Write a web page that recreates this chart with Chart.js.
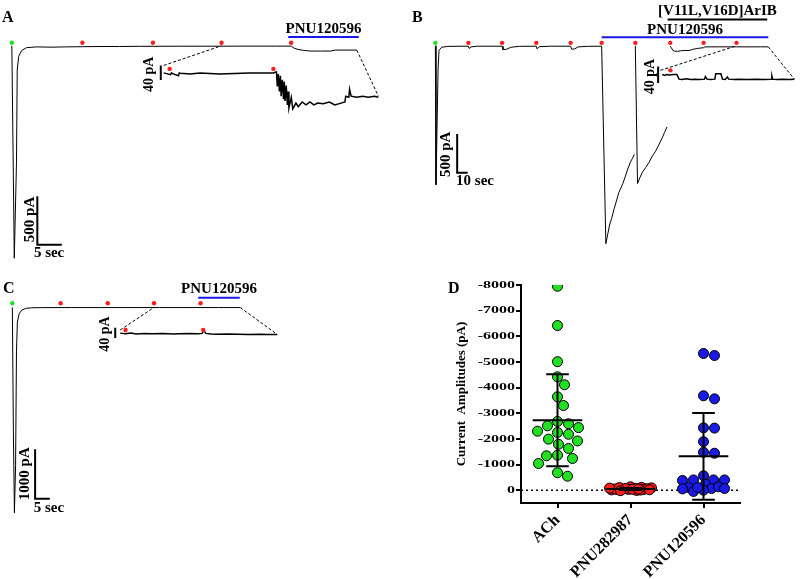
<!DOCTYPE html>
<html>
<head>
<meta charset="utf-8">
<title>nAChR currents</title>
<script src="https://cdn.jsdelivr.net/npm/chart.js@4.4.1/dist/chart.umd.min.js"></script>
<style>
  body { margin: 0; background: #fff; }
  #page { position: relative; width: 800px; height: 579px; overflow: hidden; }
  canvas { position: absolute; }
  .tag { position: absolute; font: bold 16px "Liberation Serif", serif; line-height: 1; }
</style>
</head>
<body>
<div id="page">
  <canvas id="traceA" width="400" height="270" style="left:0;top:0"></canvas>
  <canvas id="traceB" width="400" height="270" style="left:400px;top:0"></canvas>
  <canvas id="traceC" width="440" height="309" style="left:0;top:270px"></canvas>
  <canvas id="amps" width="360" height="309" style="left:440px;top:270px"></canvas>
  <div class="tag" style="left:2px;top:9px">A</div>
  <div class="tag" style="left:412px;top:9px">B</div>
  <div class="tag" style="left:3px;top:280px">C</div>
  <div class="tag" style="left:448px;top:280px">D</div>
</div>
<script>
// ---- panel A: ACh, PNU282987 pulses, then PNU120596 ----
const timeA = [0, 0.25, 0.5, 0.95, 1.1, 1.4, 2.0, 3.0, 5, 8, 11, 14.4, 18, 22, 26, 28.8, 34, 40, 42.8, 48,
  54, 57, 57.6, 58.4, 59.5, 61, 63, 65, 66, 68, 70.4];
const currentA = [0, -1100, -2190, -1200, -250, -110, -50, -20, -12, -15, -12, -10, -8, -8, -6, -6, -5, -5, -5, -4,
  -4, -4, -25, -38, -48, -55, -55, -55, -45, -45, -45];
const insetTimeA = [0, 0.88, 1.0, 1.13, 1.9, 2.0, 2.14, 3.4, 4.66, 7.2, 11.0, 14.1, 14.5, 14.6, 14.74, 14.87,
  15.0, 15.1, 15.25, 15.4, 15.5, 15.6, 15.75, 15.9, 16.0, 16.1, 16.4, 16.6, 17.0, 17.3, 17.8, 18.3, 18.8, 19.3,
  19.8, 20.5, 21.3, 22.0, 22.8, 23.3, 23.4, 23.8, 23.9, 24.1, 24.8, 25.6, 26.3, 27.1, 27.6];
const insetCurrentA = [0, -5, 0, -2, -8, 0, -1, -3, 0, -3, 0, 0, 3, -37, -3, -51,
  -8, -64, -19, -72, -24, -77, -35, -88, -51, -96, -67, -99, -83, -93, -80, -88, -80, -88,
  -83, -85, -80, -88, -83, -80, -64, -67, -45, -64, -67, -64, -67, -64, -67];
const pulsesA = [0, 14.4, 28.8, 42.8, 57];
const insetPulsesA = [0.76, 14.1];
const pnuA = [56.4, 70.8];

// ---- panel B: PNU120596 then [V11L,V16D]ArIB ----
const timeB = [0, 0.6, 2.6, 3.5, 6, 12, 31.5, 32.2, 34, 40, 63.6, 64.5, 68, 72, 80, 96.3, 97, 99, 110, 129,
  130, 133, 136, 145, 158.6,
  162.6, 164.5, 166.4, 168, 170.5, 172.6, 175, 178.8, 181, 183.5, 186, 188, 189.7,
  190.2,
  190.7, 192.8, 195, 197.5, 200.5, 203.7, 207, 210, 213, 216.2, 218.5, 220.9,
  222,
  224, 225, 226.5, 228, 231, 234, 238, 242, 246, 250, 255.8, 257, 262, 270, 280, 287.2, 300, 310, 317.5];
const currentB = [0, -1790, -300, -60, -20, -8, -6, -35, -15, -6, -6, -50, -45, -20, -8, -6, -40, -12, -6, -6,
  -45, -40, -15, -8, -6,
  -2550, -2420, -2296, -2230, -2100, -2004, -1890, -1775, -1690, -1588, -1500, -1450, -1400,
  null,
  0, -1775, -1700, -1629, -1570, -1504, -1420, -1359, -1280, -1191, -1120, -1046,
  null,
  -5, -25, -60, -70, -72, -65, -60, -62, -45, -35, -25, -15, -15, -14, -15, -14, -15, -14, -15];
const insetTimeB = [0.4, 1, 1.5, 2, 3, 3.8, 4.3, 5, 6, 7, 8, 9, 10.2, 10.4, 10.8, 11.5, 12.6, 12.8, 14.0, 14.35,
  15, 15.5, 15.8, 17, 18, 20, 22, 24, 25.7, 25.8, 26.0, 27, 28, 30, 31];
const insetCurrentB = [0, -2, 0, -1, 0, 0, -11, -12, -10, -12, -11, -12, -11, -5, -11, -12, -11, 2, 2, -11,
  -12, -6, -11, -12, -11, -12, -11, -12, -11, -3, -11, -12, -11, -12, -11];
const pulsesB = [0, 31.5, 63.6, 96.3, 129, 158.6, 190.7, 224, 255.8, 287.2];
const insetPulsesB = [2.3];
const pnuB = [158.6, 317.5];
const aribB = [221.5, 316.5];

// ---- panel C: PNU120596 alone ----
const timeC = [0, 0.35, 0.7, 1.1, 1.4, 1.7, 2.3, 3.2, 4.5, 6.5, 10, 20, 30, 40, 50, 60, 70, 77.4];
const currentC = [0, -2500, -4160, -3200, -900, -300, -130, -55, -20, -8, -4, -3, -3, -3, -3, -3, -3, -3];
const insetTimeC = [0, 1, 2, 3, 4.5, 6, 8, 10, 11, 13, 14.5, 15.3, 15.6, 16, 17, 18, 20, 22, 24, 26, 27.5, 29.3];
const insetCurrentC = [0, -2, 0, -3, -1, -2, -1, -3, -2, -1, -2, -1, 10, -1, -3, -4, -3, -4, -5, -4, -5, -5];
const pulsesC = [0, 16.4, 32.4, 48.1, 63.9];
const insetPulsesC = [1.0, 15.5];
const pnuC = [63.1, 77.2];

// ---- panel D: current amplitudes (pA) ----
const categories = ['ACh', 'PNU282987', 'PNU120596'];
const achAmps = [-7950, -6420, -5010, -4420, -4110, -3640, -3300, -2680, -2590, -2440, -2510, -2300,
  -2250, -2180, -1990, -1920, -1790, -1625, -1365, -1340, -1235, -1040, -680, -545];
const pnu282987Amps = [-110, -130, -90, -60, -40, -20, -75, -30, -10, 10, -50, -100, -25, -5, -65, -35,
  -15, 20, -45, -80];
const pnu120596Amps = [-5250, -5330, -3680, -3560, -2420, -2430, -1890, -1440, -1480, -560, -400, -400,
  -380, -400, -235, -105, -65, -130, 0, 50, -50, -65, -105];
const yTickValues = [-8000, -7000, -6000, -5000, -4000, -3000, -2000, -1000, 0];

const FONT = '"Liberation Serif", "Times New Roman", serif';
const BLUE = '#1a1ae6', RED = '#ff1c1c', GREEN = '#22e022';
Chart.defaults.font.family = FONT;
Chart.defaults.color = '#000';

// axis range so that value v0 lands on pixel p0 and v1 on p1
function span(v0, p0, v1, p1, size) {
  const k = (v1 - v0) / (p1 - p0);
  const a = v0 - p0 * k, b = a + size * k;
  return { type: 'linear', display: false, min: Math.min(a, b), max: Math.max(a, b) };
}

function notes(texts, links) {
  return {
    id: 'notes',
    afterDatasetsDraw(chart) {
      const ctx = chart.ctx;
      const at = p => {
        const ax = p[2] === 'inset' ? ['xi', 'yi'] : ['x', 'y'];
        return [chart.scales[ax[0]].getPixelForValue(p[0]), chart.scales[ax[1]].getPixelForValue(p[1])];
      };
      ctx.save();
      ctx.strokeStyle = '#000';
      ctx.lineWidth = 1;
      ctx.setLineDash([3, 2]);
      links.forEach(([a, b]) => {
        const pa = at(a), pb = at(b);
        ctx.beginPath();
        ctx.moveTo(pa[0], pa[1]);
        ctx.lineTo(pb[0], pb[1]);
        ctx.stroke();
      });
      ctx.setLineDash([]);
      ctx.fillStyle = '#000';
      ctx.textAlign = 'center';
      ctx.textBaseline = 'middle';
      texts.forEach(t => {
        const p = at(t.at);
        ctx.save();
        ctx.translate(p[0], p[1]);
        if (t.rotate) ctx.rotate(-Math.PI / 2);
        ctx.font = 'bold ' + (t.size || 15) + 'px ' + FONT;
        ctx.fillText(t.text, 0, 0);
        ctx.restore();
      });
      ctx.restore();
    }
  };
}

function traceChart(id, p) {
  const xy = (xs, ys) => xs.map((x, i) => ({ x, y: ys[i] }));
  const path = (data, inset, extra) => Object.assign({
    data, showLine: true, pointRadius: 0, borderColor: '#000', borderWidth: 1,
    xAxisID: inset ? 'xi' : 'x', yAxisID: inset ? 'yi' : 'y'
  }, extra);
  const marks = (times, level, inset, firstGreen) => ({
    data: times.map(t => ({ x: t, y: level })), showLine: false, pointRadius: 2.2, pointBorderWidth: 0,
    pointBackgroundColor: times.map((t, i) => (i === 0 && firstGreen ? GREEN : RED)),
    xAxisID: inset ? 'xi' : 'x', yAxisID: inset ? 'yi' : 'y'
  });
  const s = p.scale, si = p.insetScale;
  const datasets = [
    marks(p.pulses, p.pulseLevel, false, true),
    marks(p.insetPulses, p.insetPulseLevel, true, false),
    path(xy(p.trace[0], p.trace[1]), false),
    path(xy(p.inset[0], p.inset[1]), true, { borderWidth: 1.5 }),
    path([{ x: s.at[0], y: s.at[1] }, { x: s.at[0], y: s.at[1] - s.pA }, { x: s.at[0] + s.sec, y: s.at[1] - s.pA }],
      false, { borderWidth: 2 }),
    path([{ x: si.at[0], y: si.at[1] }, { x: si.at[0], y: si.at[1] - si.pA }], true, { borderWidth: 2 })
  ];
  const texts = [
    { text: s.pA + ' pA', at: s.pALabel, rotate: true },
    { text: s.sec + ' sec', at: s.secLabel },
    { text: si.pA + ' pA', at: [si.label[0], si.label[1], 'inset'], rotate: true, size: 14 }
  ];
  p.bars.forEach(b => {
    datasets.push(path(b.span.map(t => ({ x: t, y: b.level })), false, { borderColor: b.color, borderWidth: 2 }));
    texts.push({ text: b.label, at: [(b.span[0] + b.span[1]) / 2, b.labelLevel] });
  });
  return new Chart(document.getElementById(id), {
    type: 'scatter',
    data: { datasets },
    options: {
      responsive: false, animation: false, devicePixelRatio: 1,
      layout: { padding: 0 },
      plugins: { legend: { display: false }, tooltip: { enabled: false } },
      scales: { x: p.x, y: p.y, xi: p.xi, yi: p.yi }
    },
    plugins: [notes(texts, p.links)]
  });
}

traceChart('traceA', {
  x: span(0, 8, 5, 33, 400), y: span(0, 43, -500, 93, 270),
  xi: span(0, 163, 27.6, 382, 400), yi: span(0, 71, -40, 86, 270),
  trace: [timeA, currentA], inset: [insetTimeA, insetCurrentA],
  pulses: pulsesA, pulseLevel: 30, insetPulses: insetPulsesA, insetPulseLevel: 11,
  bars: [{ span: pnuA, level: 90, color: BLUE, label: 'PNU120596', labelLevel: 170 }],
  scale: { at: [5.2, -1550], pA: 500, sec: 5, pALabel: [3.8, -1790], secLabel: [7.6, -2140] },
  insetScale: { at: [-0.38, 20.5], pA: 40, label: [-1.85, -4] },
  links: [[[0, 20.5, 'inset'], [42.8, 0]], [[70.4, -45], [27.6, -64, 'inset']]]
});

traceChart('traceB', {
  x: span(0, 32, 10, 42.7, 400), y: span(0, 43, -500, 83, 270),
  xi: span(0, 261.7, 31, 398.3, 400), yi: span(0, 72.7, -40, 89.9, 270),
  trace: [timeB, currentB], inset: [insetTimeB, insetCurrentB],
  pulses: pulsesB, pulseLevel: 37, insetPulses: insetPulsesB, insetPulseLevel: 10,
  bars: [
    { span: pnuB, level: 109, color: BLUE, label: 'PNU120596', labelLevel: 196 },
    { span: aribB, level: 337, color: '#000', label: '[V11L,V16D]ArIB', labelLevel: 450 }
  ],
  scale: { at: [20.8, -1137], pA: 500, sec: 10, pALabel: [10.6, -1400], secLabel: [37.8, -1746] },
  insetScale: { at: [-0.54, 19.5], pA: 40, label: [-2.27, -5] },
  links: [[[0, 10, 'inset'], [287.2, 0]], [[317.5, -15], [31, -11, 'inset']]]
});

traceChart('traceC', {
  x: span(0, 8.5, 5, 23.5, 440), y: span(0, 34.3, -1000, 85, 309),
  xi: span(0, 118.3, 29.3, 278.3, 440), yi: span(0, 60.7, -40, 71.4, 309),
  trace: [timeC, currentC], inset: [insetTimeC, insetCurrentC],
  pulses: pulsesC, pulseLevel: 85, insetPulses: insetPulsesC, insetPulseLevel: 12,
  bars: [{ span: pnuC, level: 197, color: BLUE, label: 'PNU120596', labelLevel: 380 }],
  scale: { at: [7.73, -2874], pA: 1000, sec: 5, pALabel: [4.4, -3367], secLabel: [12.4, -4071] },
  insetScale: { at: [-0.92, 21], pA: 40, label: [-2.75, -4] },
  links: [[[0, 12, 'inset'], [48.1, 0]], [[77.4, -3], [29.3, -5, 'inset']]]
});

// ---- panel D ----
const groups = [achAmps, pnu282987Amps, pnu120596Amps];
const groupColors = [GREEN, RED, BLUE];

function meanSd(v) {
  const m = v.reduce((a, b) => a + b, 0) / v.length;
  const sd = Math.sqrt(v.reduce((a, b) => a + (b - m) * (b - m), 0) / (v.length - 1));
  return [m, sd];
}

const summary = {
  id: 'summary',
  beforeDatasetsDraw(chart) {
    const { ctx, chartArea } = chart;
    const y0 = chart.scales.y.getPixelForValue(0);
    ctx.save();
    ctx.strokeStyle = '#000';
    ctx.lineWidth = 1.5;
    ctx.setLineDash([2, 3]);
    ctx.beginPath();
    ctx.moveTo(chartArea.left, y0);
    ctx.lineTo(chartArea.right, y0);
    ctx.stroke();
    ctx.restore();
  },
  afterDatasetsDraw(chart) {
    const { ctx } = chart;
    const xs = chart.scales.x, ys = chart.scales.y;
    ctx.save();
    ctx.strokeStyle = '#000';
    ctx.lineWidth = 2;
    groups.forEach((vals, g) => {
      const [m, sd] = meanSd(vals);
      const cx = xs.getPixelForValue(g + 1);
      const wide = xs.getPixelForValue(g + 1.34) - cx;
      const cap = xs.getPixelForValue(g + 1.155) - cx;
      const pm = ys.getPixelForValue(m), pt = ys.getPixelForValue(m - sd), pb = ys.getPixelForValue(m + sd);
      ctx.beginPath();
      ctx.moveTo(cx - wide, pm); ctx.lineTo(cx + wide, pm);
      ctx.moveTo(cx, pt); ctx.lineTo(cx, pb);
      ctx.moveTo(cx - cap, pt); ctx.lineTo(cx + cap, pt);
      ctx.moveTo(cx - cap, pb); ctx.lineTo(cx + cap, pb);
      ctx.stroke();
    });
    ctx.restore();
  },
  afterDraw(chart) {
    // y tick labels: the reference uses wide, flat digits
    const { ctx } = chart;
    const ys = chart.scales.y;
    ctx.save();
    ctx.fillStyle = '#000';
    ctx.font = 'bold 16px ' + FONT;
    ctx.textAlign = 'right';
    ctx.textBaseline = 'middle';
    ys.ticks.forEach(t => {
      ctx.save();
      ctx.translate(ys.right - 6, ys.getPixelForValue(t.value));
      ctx.scale(1, 0.68);
      ctx.fillText(String(t.value), 0, 0);
      ctx.restore();
    });
    ctx.restore();
  }
};

const amps = new Chart(document.getElementById('amps'), {
  type: 'scatter',
  data: {
    datasets: groups.map((vals, g) => ({
      data: vals.map(v => ({ x: g + 1, y: v })),
      pointRadius: 5, pointBorderWidth: 1, pointBorderColor: '#000', pointBackgroundColor: groupColors[g]
    }))
  },
  options: {
    responsive: false, animation: false, devicePixelRatio: 1,
    layout: { padding: { top: 15, right: 60, left: 0, bottom: 0 } },
    plugins: { legend: { display: false }, tooltip: { enabled: false } },
    scales: {
      x: {
        type: 'linear', min: 0.5, max: 3.5,
        afterBuildTicks: s => { s.ticks = categories.map((c, i) => ({ value: i + 1 })); },
        afterFit: s => { s.height = 76; },
        ticks: {
          autoSkip: false, minRotation: 45, maxRotation: 45, padding: 3, color: '#000',
          font: { family: FONT, size: 16, weight: 'bold' },
          callback: v => categories[v - 1]
        },
        grid: { display: true, drawOnChartArea: false, drawTicks: true, tickLength: 5, color: '#000', lineWidth: 2 },
        border: { display: true, color: '#000', width: 2 }
      },
      y: {
        type: 'linear', reverse: true, min: -8000, max: 500,
        ticks: { display: false },
        afterBuildTicks: s => { s.ticks = yTickValues.map(v => ({ value: v })); },
        afterFit: s => { s.width = 81; },
        title: {
          display: true, text: 'Current  Amplitudes (pA)', color: '#000',
          font: { family: FONT, size: 13, weight: 'bold' }, padding: { top: 14, bottom: 0 }
        },
        grid: { display: true, drawOnChartArea: false, drawTicks: true, tickLength: 5, color: '#000', lineWidth: 2 },
        border: { display: true, color: '#000', width: 2 }
      }
    }
  },
  plugins: [summary]
});

// spread the points of each group sideways like a scatter dot plot
function swarm(chart) {
  const xs = chart.scales.x, ys = chart.scales.y;
  const gap = 10.5;
  const reach = xs.getPixelForValue(1.29) - xs.getPixelForValue(1);
  chart.data.datasets.forEach((ds, g) => {
    const cx = xs.getPixelForValue(g + 1);
    const placed = [];
    const order = ds.data.map((p, k) => k).sort((a, b) => ds.data[a].y - ds.data[b].y);
    order.forEach(k => {
      const py = ys.getPixelForValue(ds.data[k].y);
      let best = 0, bestGap = -1;
      for (let step = 0; Math.ceil(step / 2) <= reach; step++) {
        const dx = (step % 2 ? 1 : -1) * Math.ceil(step / 2);
        let near = Infinity;
        placed.forEach(q => { near = Math.min(near, Math.hypot(dx - q[0], py - q[1])); });
        if (near >= gap) { best = dx; bestGap = near; break; }
        if (near > bestGap) { best = dx; bestGap = near; }
      }
      placed.push([best, py]);
      ds.data[k].x = xs.getValueForPixel(cx + best);
    });
  });
  chart.update('none');
}
swarm(amps);
</script>
</body>
</html>
